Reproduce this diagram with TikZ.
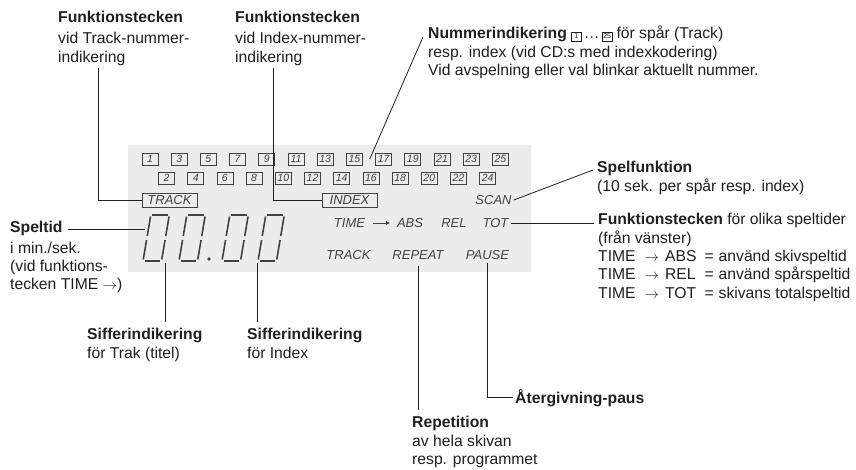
\documentclass[tikz,border=0pt]{standalone}
\usepackage{fontspec}
\setmainfont{Liberation Sans}
\usetikzlibrary{arrows.meta}

\definecolor{panel}{gray}{0.925}
\definecolor{lcd}{gray}{0.26}
\definecolor{skrift}{gray}{0.12}

\newcommand{\pil}{\ensuremath{\rightarrow}}
\newcommand{\smaruta}[1]{{\setlength{\fboxsep}{1pt}\setlength{\fboxrule}{0.5pt}\fbox{\makebox[7pt]{\rule[-1.5pt]{0pt}{7pt}\fontsize{7}{7}\selectfont #1}}}}
\newcommand{\lcdsiffra}[1]{%
  \begin{scope}[shift={(#1,261)},xslant=0.17]
    \draw[segment] (1.5,-46) -- (17,-46);
    \draw[segment] (0,-44.5) -- (0,-25);
    \draw[segment] (18.5,-44.5) -- (18.5,-25);
    \draw[segment] (0,-21) -- (0,-1.5);
    \draw[segment] (18.5,-21) -- (18.5,-1.5);
    \draw[segment] (1.5,0) -- (17,0);
  \end{scope}}

\tikzset{
  etikett/.style={anchor=base west,inner sep=0pt,text=skrift,font=\fontsize{15.7}{18.3}\selectfont},
  lcdtext/.style={inner sep=0pt,text=lcd,font=\fontsize{13}{13}\selectfont\itshape},
  nrruta/.style={draw=lcd,line width=0.7pt,minimum width=16pt,minimum height=12pt,inner sep=0pt,text=lcd,font=\fontsize{10.5}{10.5}\selectfont\itshape},
  ordruta/.style={lcdtext,draw=lcd,line width=0.7pt,minimum height=14pt},
  ledare/.style={draw=skrift,line width=0.8pt},
  segment/.style={draw=lcd,line width=1.6pt},
}

\begin{document}
\begin{tikzpicture}[x=1pt,y=-1pt]
        \useasboundingbox (0,0) rectangle (856,470);

        % displayens bakgrund
        \fill[panel] (128,145) rectangle (531,272);

        % nummerrutor 1 ... 25
        \foreach \k in {0,...,12} {
            \pgfmathtruncatemacro{\n}{2*\k+1}
            \node[nrruta] (nr\n) at (150+29.2*\k,159) {\n};
        }
        \foreach \k in {0,...,11} {
            \pgfmathtruncatemacro{\n}{2*\k+2}
            \node[nrruta] (nr\n) at (166.5+29.2*\k,178) {\n};
        }

        % funktionstecken i displayen
        \node[ordruta,minimum width=55pt] (trackruta) at (169.5,200) {TRACK};
        \node[ordruta,minimum width=55pt] (indexruta) at (349.5,200) {INDEX};
        \node[lcdtext] (scan) at (493.5,200) {SCAN};
        \node[lcdtext] (tid) at (349.5,223) {TIME};
        \node[lcdtext] (abs) at (410,223) {ABS};
        \node[lcdtext] (rel) at (454,223) {REL};
        \node[lcdtext] (tot) at (495.5,223) {TOT};
        \draw[lcd,line width=0.8pt,-{Triangle[length=4pt,width=4pt]}] ([xshift=8pt]tid.east) -- ([xshift=-7pt]abs.west);
        \node[lcdtext] (spar) at (348.5,255) {TRACK};
        \node[lcdtext] (repeat) at (418,255) {REPEAT};
        \node[lcdtext] (pause) at (487.5,255) {PAUSE};

        % siffror 88.88
        \lcdsiffra{143}
        \lcdsiffra{179}
        \fill[lcd] (209,259) circle (1.8pt);
        \lcdsiffra{222}
        \lcdsiffra{258}
        \coordinate (siffra1) at (165,263);
        \coordinate (siffra2) at (257,263);
        \coordinate (sifferstart) at (145,229);

        % förklaringar
        \node[etikett] (funktrack) at (58,23) {\begin{tabular}[t]{@{}l@{}}
            \textbf{Funktionstecken}\\[2.5pt]
            vid Track-nummer-\\
            indikering
        \end{tabular}};
        \node[etikett] (funkindex) at (235,23) {\begin{tabular}[t]{@{}l@{}}
            \textbf{Funktionstecken}\\[2.5pt]
            vid Index-nummer-\\
            indikering
        \end{tabular}};
        \node[etikett] (nummer) at (428,39) {\begin{tabular}[t]{@{}l@{}}
            \textbf{Nummerindikering} \smaruta{1}\,\dots\,\smaruta{25} för spår (Track)\\
            resp. index (vid CD:s med indexkodering)\\
            Vid avspelning eller val blinkar aktuellt nummer.
        \end{tabular}};
        \node[etikett] (spelfunk) at (597,173) {\begin{tabular}[t]{@{}l@{}}
            \textbf{Spelfunktion}\\
            (10 sek. per spår resp. index)
        \end{tabular}};
        \node[etikett] (speltider) at (598,225) {\begin{tabular}[t]{@{}l@{\hspace{8pt}}l@{\hspace{5pt}}l@{}}
            \multicolumn{3}{@{}l@{}}{\textbf{Funktionstecken} för olika speltider}\\
            \multicolumn{3}{@{}l@{}}{(från vänster)}\\
            TIME\hspace{9pt}\pil\hspace{6pt}ABS & = & använd skivspeltid\\
            TIME\hspace{9pt}\pil\hspace{6pt}REL & = & använd spårspeltid\\
            TIME\hspace{9pt}\pil\hspace{6pt}TOT & = & skivans totalspeltid
        \end{tabular}};
        \node[etikett] (speltid) at (10,233) {\begin{tabular}[t]{@{}l@{}}
            \textbf{Speltid}\\[2pt]
            i min./sek.\\
            (vid funktions-\\
            tecken TIME \pil)
        \end{tabular}};
        \node[etikett] (siffertrak) at (87,339) {\begin{tabular}[t]{@{}l@{}}
            \textbf{Sifferindikering}\\[1.5pt]
            för Trak (titel)
        \end{tabular}};
        \node[etikett] (sifferindex) at (247,339) {\begin{tabular}[t]{@{}l@{}}
            \textbf{Sifferindikering}\\[1.5pt]
            för Index
        \end{tabular}};
        \node[etikett] (repetition) at (412,427) {\begin{tabular}[t]{@{}l@{}}
            \textbf{Repetition}\\[1pt]
            av hela skivan\\
            resp. programmet
        \end{tabular}};
        \node[etikett] (aterpaus) at (515,403) {\textbf{Återgivning-paus}};

        % ledare
        \draw[ledare] ([xshift=40pt]funktrack.south west) |- (trackruta.west);
        \draw[ledare] ([xshift=38pt]funkindex.south west) |- (indexruta.west);
        \draw[ledare] ([shift={(-5pt,2pt)}]nummer.base west) -- ([xshift=7pt]nr15.east);
        \draw[ledare] ([xshift=2pt]scan.east) -- ([shift={(-4pt,3pt)}]spelfunk.base west);
        \draw[ledare] ([xshift=2pt]tot.east) -- ([xshift=-4pt]tot.east -| speltider.west);
        \draw[ledare] ([shift={(58pt,4pt)}]speltid.base west) -- (sifferstart);
        \draw[ledare] (siffra1) -- ([yshift=4pt]siffra1 |- siffertrak.north);
        \draw[ledare] (siffra2) -- ([yshift=4pt]siffra2 |- sifferindex.north);
        \draw[ledare] ([yshift=-6pt]repeat.south) -- ([yshift=4pt]repeat.south |- repetition.north);
        \draw[ledare] ([yshift=-3pt]pause.south) |- ([xshift=-2pt]aterpaus.west);
    \end{tikzpicture}
\end{document}
